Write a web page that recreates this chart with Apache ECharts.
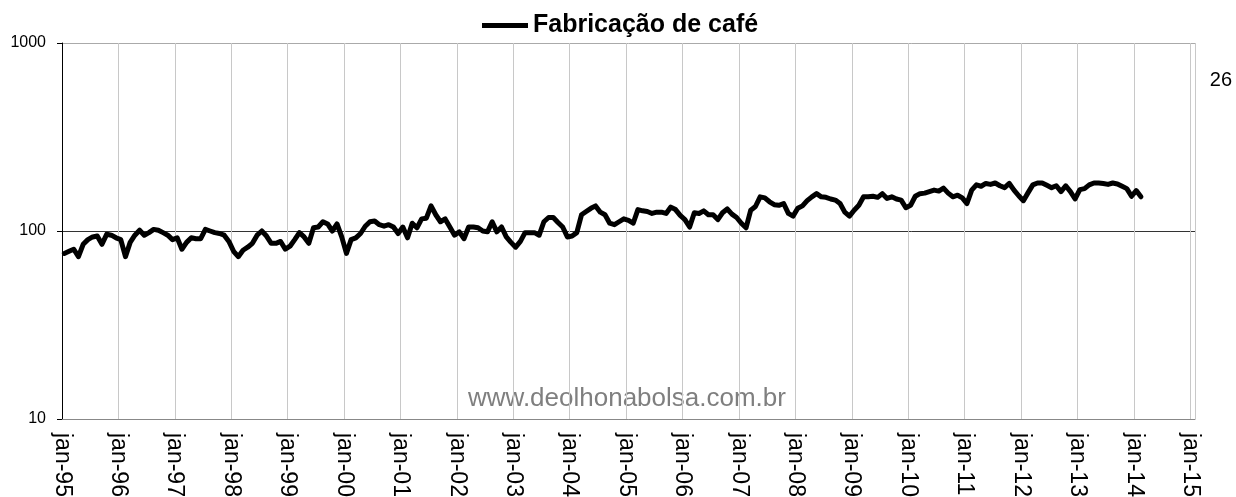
<!DOCTYPE html>
<html>
<head>
<meta charset="utf-8">
<script src="https://cdn.jsdelivr.net/npm/echarts@6/dist/echarts.min.js"></script>
<style>
  html, body { margin: 0; padding: 0; background: #fff; }
  #chart { width: 1236px; height: 497px; }
</style>
</head>
<body>
<div id="chart"></div>
<script>
// tick labels of the x axis (one per January)
var yearLabels = ['jan-95', 'jan-96', 'jan-97', 'jan-98', 'jan-99', 'jan-00', 'jan-01',
    'jan-02', 'jan-03', 'jan-04', 'jan-05', 'jan-06', 'jan-07', 'jan-08', 'jan-09',
    'jan-10', 'jan-11', 'jan-12', 'jan-13', 'jan-14', 'jan-15'];

var yTicks = [10, 100, 1000];

// monthly index, jan-95 .. feb-14
var fabricacaoCafe = [
    76, 78, 80, 73, 85, 90, 93, 94, 85, 96, 95, 92,          // 1995
    90, 73, 87, 95, 101, 95, 98, 102, 101, 98, 95, 90,       // 1996
    92, 80, 87, 92, 91, 91, 102, 100, 98, 97, 95, 88,        // 1997
    78, 73, 79, 82, 86, 95, 100, 94, 86, 86, 88, 80,         // 1998
    83, 90, 98, 93, 86, 104, 105, 112, 109, 100, 109, 93,    // 1999
    76, 90, 92, 97, 106, 112, 113, 108, 106, 108, 105, 97,   // 2000
    105, 92, 110, 104, 116, 117, 136, 122, 112, 116, 105, 95, // 2001
    99, 91, 105, 105, 104, 100, 99, 112, 99, 105, 93, 87,    // 2002
    82, 88, 98, 98, 98, 95, 112, 118, 118, 111, 105, 93,     // 2003
    94, 98, 122, 127, 132, 136, 126, 122, 110, 108, 112, 116, // 2004
    114, 110, 130, 128, 127, 124, 126, 126, 124, 134, 130, 121, // 2005
    115, 105, 125, 124, 128, 122, 122, 115, 125, 131, 123, 118, // 2006
    110, 104, 129, 135, 152, 150, 143, 138, 137, 140, 124, 120, // 2007
    132, 136, 145, 152, 158, 152, 151, 148, 146, 140, 126, 120, // 2008
    129, 137, 152, 152, 153, 151, 158, 149, 152, 148, 146, 133, // 2009
    137, 153, 158, 159, 162, 165, 163, 169, 159, 152, 155, 150, // 2010
    140, 165, 176, 173, 179, 177, 180, 174, 170, 179, 165, 154, // 2011
    145, 160, 176, 180, 180, 175, 170, 174, 162, 174, 162, 148, // 2012
    166, 168, 176, 180, 180, 179, 177, 180, 178, 173, 168, 153, // 2013
    164, 152                                                    // 2014
];

var chart = echarts.init(document.getElementById('chart'));
var font = "'Liberation Sans', Arial, sans-serif";

// x = month number counted from jan-95, plotted at mid-month
var seriesData = fabricacaoCafe.map(function (v, i) { return [i + 0.5, v]; });

var option = {
    animation: false,
    backgroundColor: '#fff',
    legend: {
        left: 482,
        top: 13,
        padding: 0,
        icon: 'rect',
        itemWidth: 46,
        itemHeight: 5,
        itemGap: 5,
        textStyle: { fontFamily: font, fontSize: 25, fontWeight: 'bold', color: '#000' },
        data: ['Fabricação de café']
    },
    graphic: [
        {
            type: 'text', right: 4, top: 70,
            style: { text: '26', font: '20px ' + font, fill: '#000' }
        },
        {
            type: 'text', left: 468, top: 386,
            style: { text: 'www.deolhonabolsa.com.br', font: '26px ' + font, fill: '#7f7f7f' }
        }
    ],
    grid: { left: 62, right: 41, top: 43, bottom: 78, outerBoundsMode: 'none', containLabel: false },
    xAxis: {
        type: 'value',
        min: 0,
        max: 241,
        interval: 12,
        axisLine: { show: true, lineStyle: { color: '#888', width: 1 } },
        axisTick: { show: false },
        splitLine: { show: true, lineStyle: { color: '#c8c8c8', width: 1 } },
        axisLabel: {
            rotate: -90,
            margin: 14,
            fontFamily: font,
            fontSize: 23,
            color: '#000',
            showMaxLabel: false,
            formatter: function (v) {
                return v % 12 === 0 ? (yearLabels[v / 12] || '') : '';
            }
        }
    },
    yAxis: {
        type: 'log',
        logBase: 10,
        min: yTicks[0],
        max: yTicks[yTicks.length - 1],
        axisLine: { show: true, lineStyle: { color: '#000', width: 1 } },
        axisTick: { show: true, inside: false, length: 5, lineStyle: { color: '#000' } },
        splitLine: { show: true, lineStyle: { color: ['#999', '#333', '#aaa'], width: 1 } },
        axisLabel: {
            margin: 16,
            fontFamily: font,
            fontSize: 16,
            color: '#000',
            formatter: function (v) { return String(Math.round(v)); }
        }
    },
    series: [
        {
            name: 'Fabricação de café',
            type: 'line',
            data: seriesData,
            showSymbol: false,
            symbol: 'none',
            lineStyle: { color: '#000', width: 5, join: 'round', cap: 'round' },
            itemStyle: { color: '#000' }
        }
    ]
};

chart.setOption(option);
window.addEventListener('resize', function () {
    chart.resize();
});
</script>
</body>
</html>
